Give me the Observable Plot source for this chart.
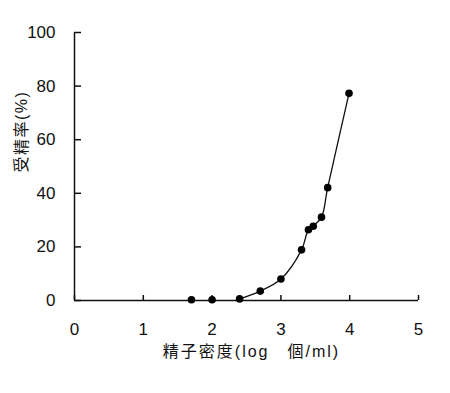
<!DOCTYPE html>
<html>
<head>
<meta charset="utf-8">
<script src="https://cdn.jsdelivr.net/npm/d3@7"></script>
<script src="https://cdn.jsdelivr.net/npm/@observablehq/plot@0.6"></script>
<style>
  html, body { margin: 0; padding: 0; background: #fff; }
  g.xlab text { letter-spacing: 2px; }
  g.ylab text { letter-spacing: 1.5px; }
</style>
</head>
<body>
<div id="chart"></div>
<script>
// log sperm density (log cells/ml)
const density = [1.7, 2.0, 2.4, 2.7, 3.0, 3.3, 3.4, 3.47, 3.59, 3.68, 3.99];
// fertilization rate (%)
const rate = [0.3, 0.3, 0.6, 3.5, 8.0, 18.9, 26.4, 27.7, 31.1, 42.1, 77.3];
const xTicks = [0, 1, 2, 3, 4, 5];
const yTicks = [0, 20, 40, 60, 80, 100];
const xLabel = "精子密度(log　個/ml)";
const yLabel = "受精率(%)";

const data = density.map((d, i) => ({x: d, y: rate[i]}));
const curveData = data.filter(d => d.x >= 2.4);
const labelFont = "'Liberation Sans', 'Noto Sans CJK JP', sans-serif";

const chart = Plot.plot({
  width: 450,
  height: 393,
  marginLeft: 74,
  marginRight: 32,
  marginTop: 32,
  marginBottom: 93,
  style: {fontFamily: "'Liberation Sans', Arial, sans-serif", fontSize: "17px", color: "#111", background: "#fff"},
  x: {domain: [0, 5]},
  y: {domain: [0, 100]},
  marks: [
    Plot.axisX({ticks: xTicks, tickSize: 0, tickPadding: 22, tickFormat: d => String(d), label: null}),
    Plot.axisY({ticks: yTicks, tickSize: 0, tickPadding: 19, tickFormat: d => String(d), label: null}),
    // inward tick marks
    Plot.ruleX(xTicks, {x: d => d, y1: 0, y2: 0, insetTop: -5, stroke: "#111", strokeWidth: 1.5}),
    Plot.ruleY(yTicks, {y: d => d, x1: 0, x2: 0, insetRight: -7, stroke: "#111", strokeWidth: 1.5}),
    // axis lines
    Plot.ruleY([0], {stroke: "#111", strokeWidth: 1.5}),
    Plot.ruleX([0], {stroke: "#111", strokeWidth: 1.5}),
    // axis titles
    Plot.text([xLabel], {text: d => d + "\u2060", frameAnchor: "bottom", dx: 5, dy: 51, lineAnchor: "middle",
      fontFamily: labelFont, fontSize: 16, fill: "#111", className: "xlab"}),
    Plot.text([yLabel], {text: d => d, frameAnchor: "left", dx: -53, dy: 6, rotate: -90, lineAnchor: "middle",
      fontFamily: labelFont, fontSize: 16, fill: "#111", className: "ylab"}),
    Plot.line(curveData, {x: "x", y: "y", curve: "catmull-rom", stroke: "#111", strokeWidth: 1.3}),
    Plot.dot(data, {x: "x", y: "y", r: 3.8, fill: "#000", stroke: "none"})
  ]
});
document.getElementById("chart").appendChild(chart);
</script>
</body>
</html>
